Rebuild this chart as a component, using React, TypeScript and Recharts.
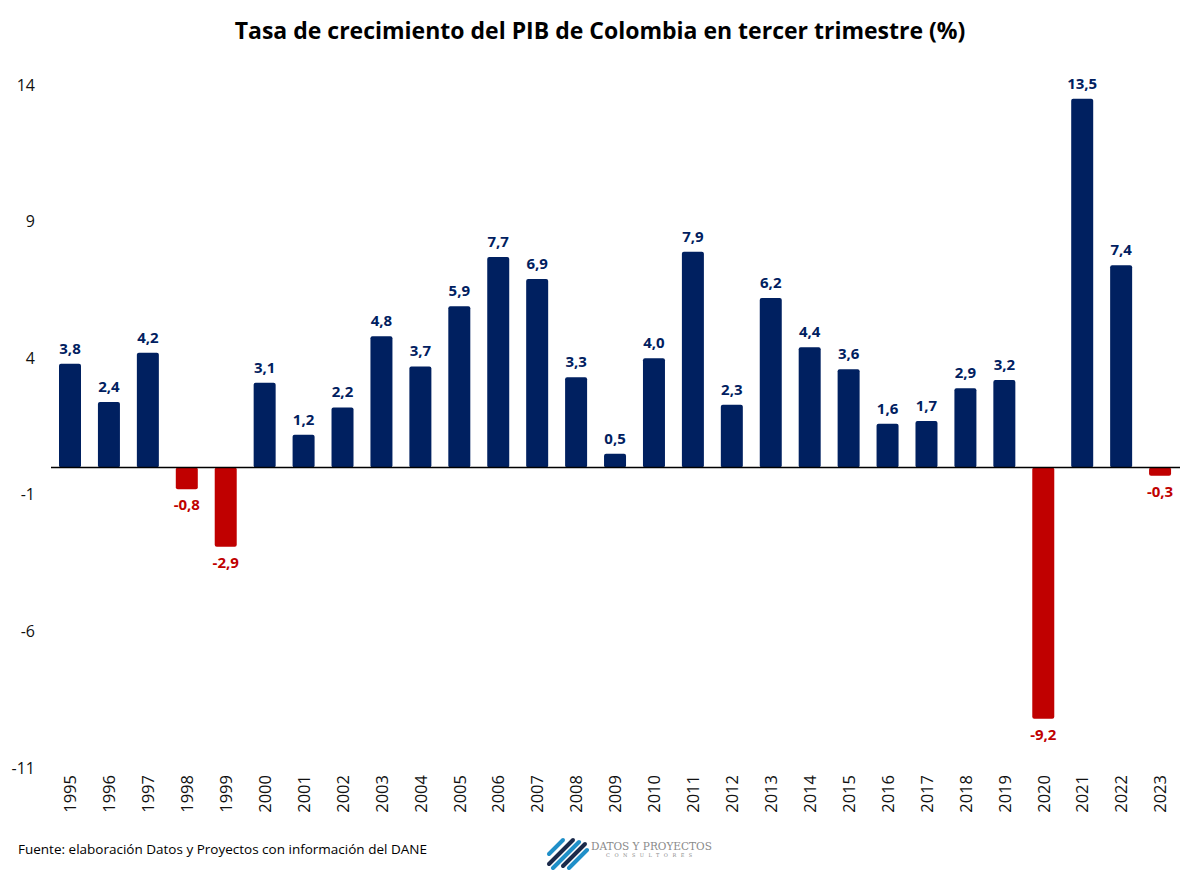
import { BarChart, Bar, XAxis, YAxis, Cell, LabelList, ReferenceLine } from 'recharts';

const years = [
  '1995', '1996', '1997', '1998', '1999', '2000', '2001', '2002', '2003', '2004',
  '2005', '2006', '2007', '2008', '2009', '2010', '2011', '2012', '2013', '2014',
  '2015', '2016', '2017', '2018', '2019', '2020', '2021', '2022', '2023',
];
const growth = [
  3.8, 2.4, 4.2, -0.8, -2.9, 3.1, 1.2, 2.2, 4.8, 3.7,
  5.9, 7.7, 6.9, 3.3, 0.5, 4.0, 7.9, 2.3, 6.2, 4.4,
  3.6, 1.6, 1.7, 2.9, 3.2, -9.2, 13.5, 7.4, -0.3,
];
const yTicks = [-11, -6, -1, 4, 9, 14];

const NAVY = '#002060';
const RED = '#C00000';
const FONT = '"Open Sans", "Noto Sans", sans-serif';

const data = years.map((year, i) => ({ year, value: growth[i] }));

const fmt = (v: number) => v.toFixed(1).replace('.', ',');

const ValueLabel = (props: any) => {
  const { x, y, width, height, value } = props;
  const neg = value < 0;
  const cx = x + width / 2;
  // negative bars come with a negative height
  const top = Math.min(y, y + height);
  const bottom = Math.max(y, y + height);
  return (
    <text
      x={cx}
      y={neg ? bottom + 21 : top - 10}
      textAnchor="middle"
      fill={neg ? RED : NAVY}
      fontFamily={FONT}
      fontWeight={700}
      fontSize={15}
    >
      {fmt(value)}
    </text>
  );
};

const YearTick = (props: any) => {
  const { x, payload } = props;
  return (
    <g transform={`translate(${x},768)`}>
      <text
        transform="rotate(-90)"
        x={-7}
        y={0}
        dy="0.35em"
        textAnchor="end"
        fill="#111"
        fontFamily={FONT}
        fontSize={16.5}
      >
        {payload.value}
      </text>
    </g>
  );
};

const Logo = () => (
  <div style={{ position: 'absolute', left: 545, top: 828, display: 'flex', alignItems: 'center' }}>
    <svg width={46} height={42}>
      <g strokeWidth={4} strokeLinecap="round">
        <line x1={4} y1={26} x2={18} y2={12} stroke="#1F8FC8" />
        <line x1={4} y1={36} x2={28} y2={12} stroke="#1B2A4A" />
        <line x1={8} y1={40} x2={34} y2={14} stroke="#1F8FC8" />
        <line x1={18} y1={38} x2={40} y2={16} stroke="#1B2A4A" />
        <line x1={24} y1={40} x2={42} y2={22} stroke="#1F8FC8" />
      </g>
    </svg>
    <div style={{ marginLeft: 0, fontFamily: '"DejaVu Serif", serif', color: '#8a8a8a' }}>
      <div style={{ fontSize: 10.5 }}>DATOS Y PROYECTOS</div>
      <div style={{ fontSize: 5, letterSpacing: 4.5, textAlign: 'center' }}>CONSULTORES</div>
    </div>
  </div>
);

export default function App() {
  return (
    <div
      style={{
        position: 'absolute',
        left: 0,
        top: 0,
        width: 1200,
        height: 870,
        background: '#fff',
        fontFamily: FONT,
      }}
    >
      <div
        style={{
          position: 'absolute',
          top: 14,
          left: 0,
          width: 1200,
          textAlign: 'center',
          fontSize: 23,
          fontWeight: 700,
          color: '#000',
        }}
      >
        Tasa de crecimiento del PIB de Colombia en tercer trimestre (%)
      </div>
      <div style={{ position: 'absolute' }}>
        <BarChart
          width={1200}
          height={870}
          data={data}
          margin={{ top: 85, right: 20, bottom: 0, left: 11 }}
          barCategoryGap={0}
        >
          <XAxis
            dataKey="year"
            axisLine={false}
            tickLine={false}
            interval={0}
            tick={<YearTick />}
            height={102}
          />
          <YAxis
            domain={[-11, 14]}
            ticks={yTicks}
            axisLine={false}
            tickLine={false}
            width={40}
            dx={-8}
            tick={{ fill: '#111', fontSize: 16, fontFamily: FONT }}
          />
          <ReferenceLine y={0} stroke="#000" strokeWidth={1.5} />
          <Bar dataKey="value" barSize={22} radius={2} isAnimationActive={false}>
            {data.map((d, i) => (
              <Cell key={i} fill={d.value < 0 ? RED : NAVY} />
            ))}
            <LabelList dataKey="value" content={<ValueLabel />} />
          </Bar>
        </BarChart>
      </div>
      <div style={{ position: 'absolute', left: 18, top: 840, fontSize: 13.5, color: '#000' }}>
        Fuente: elaboración Datos y Proyectos con información del DANE
      </div>
      <Logo />
    </div>
  );
}
